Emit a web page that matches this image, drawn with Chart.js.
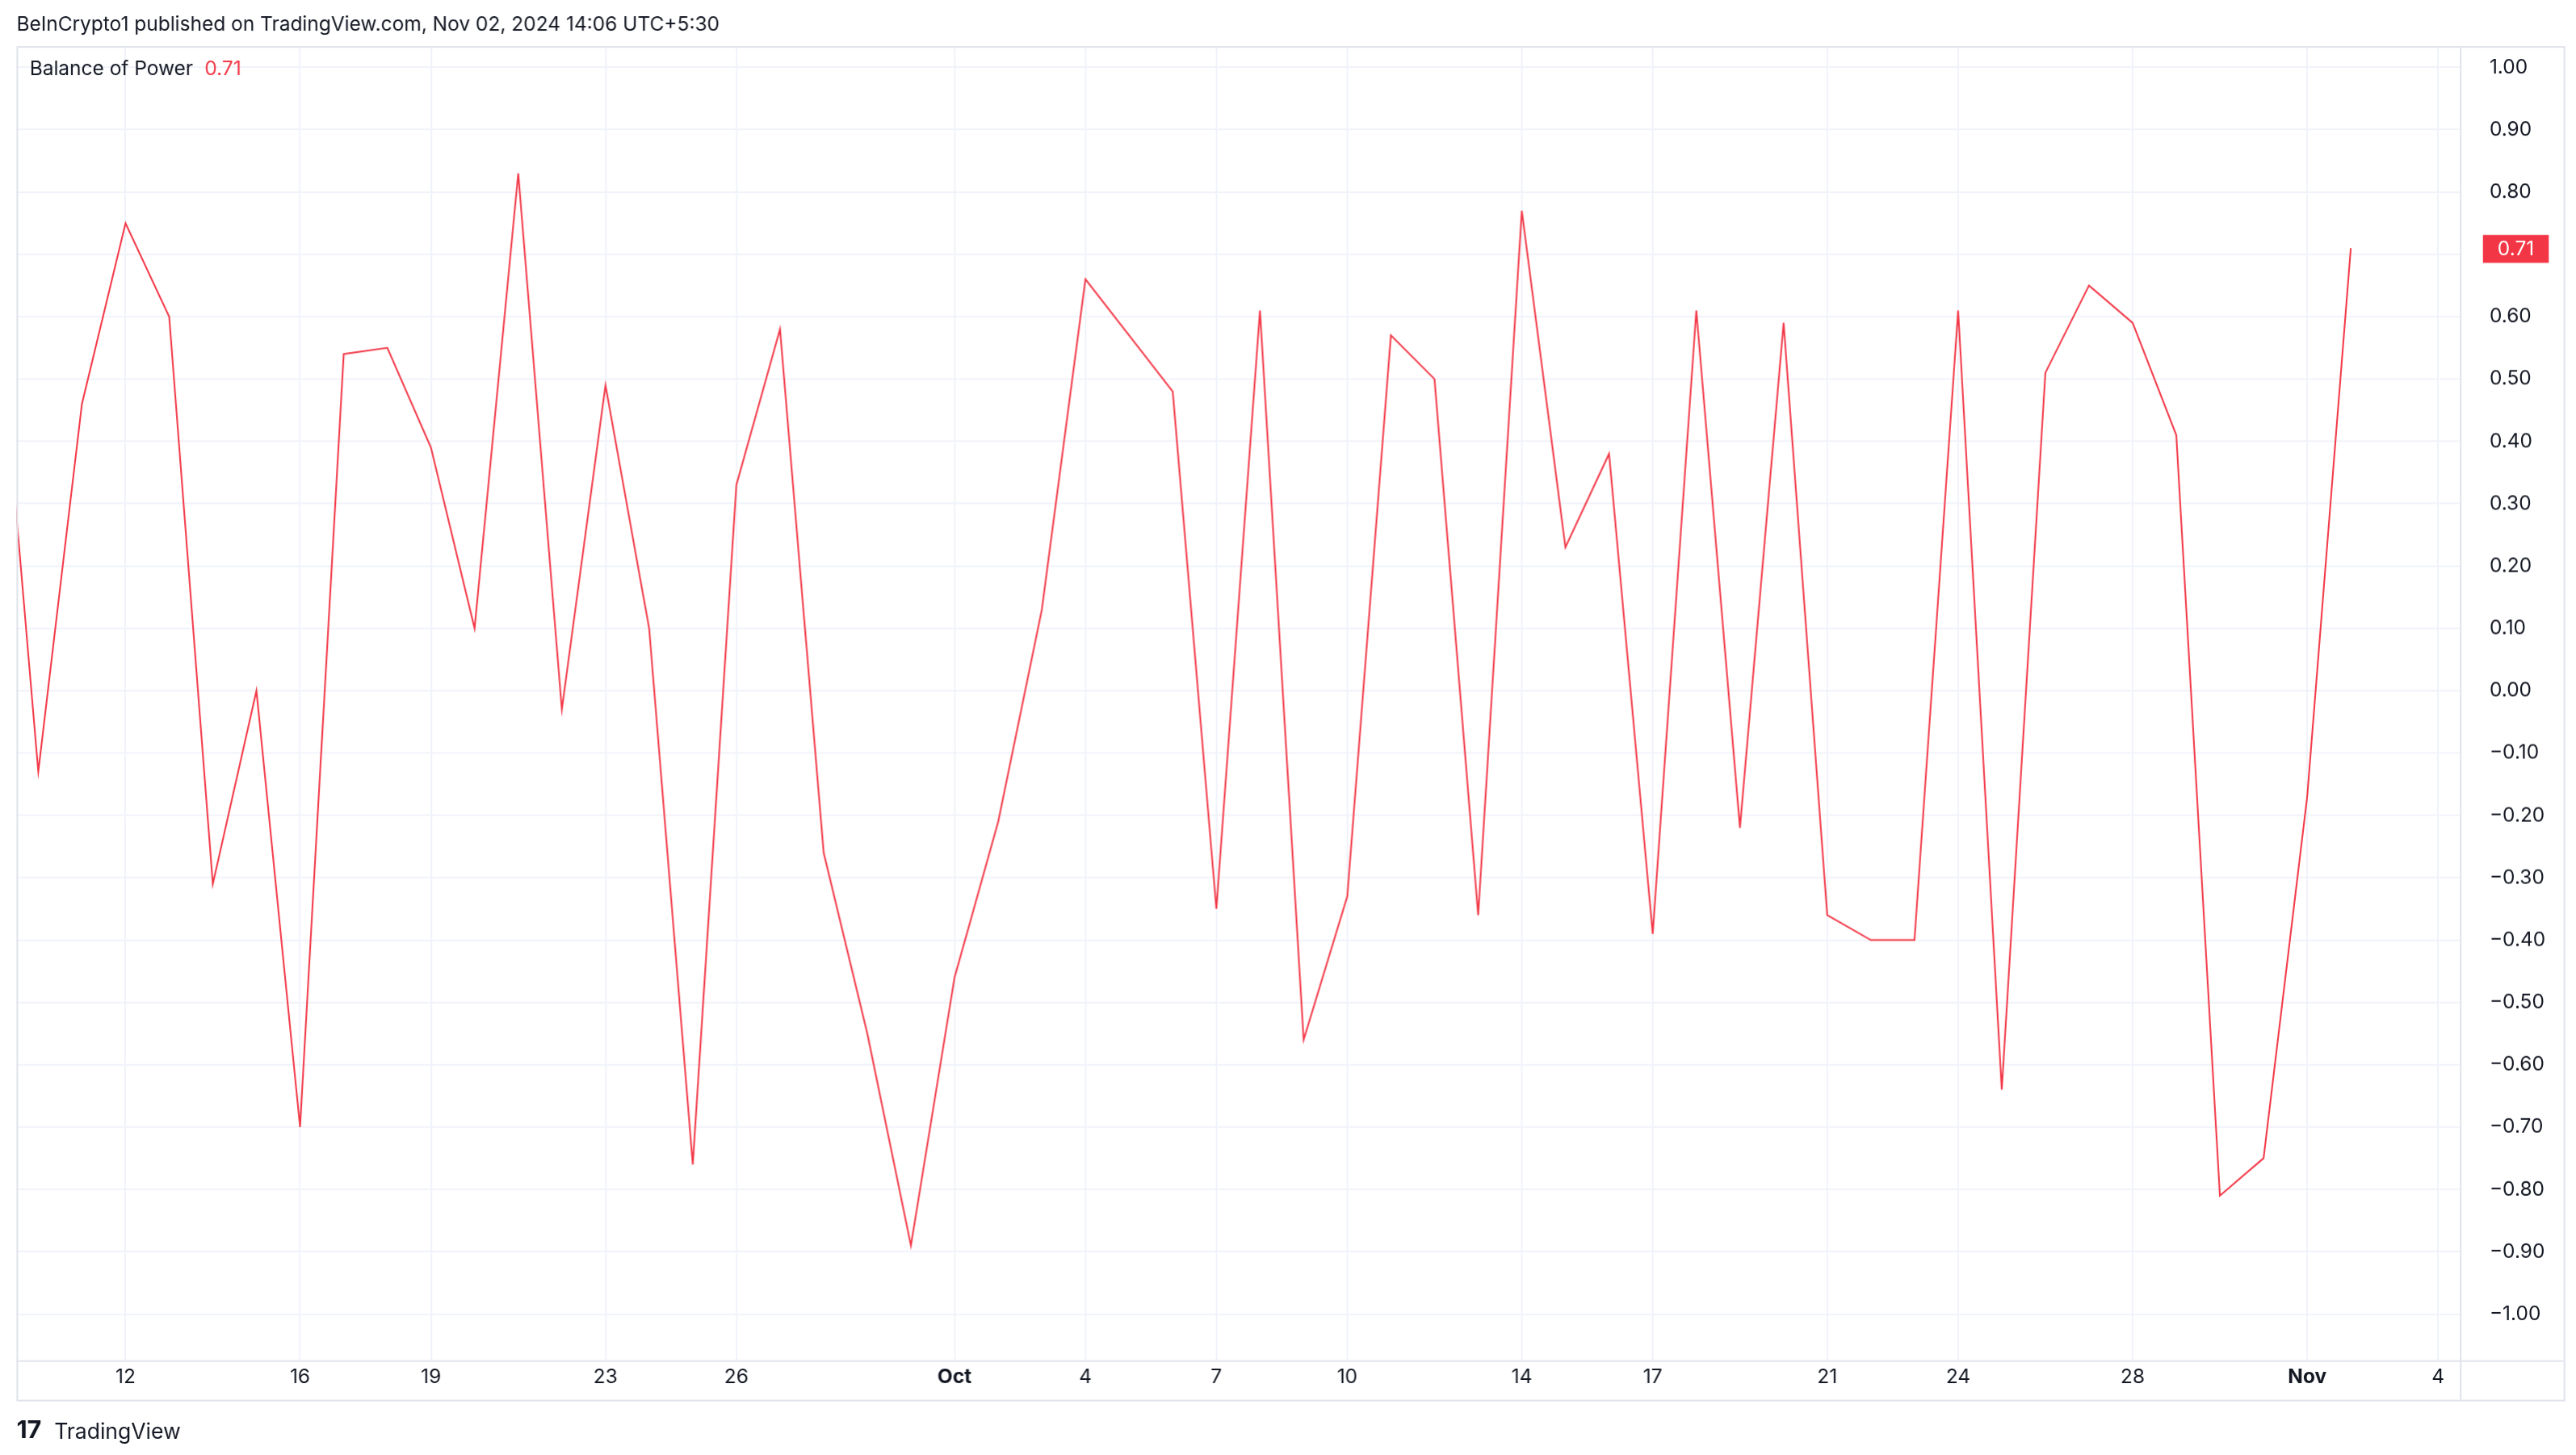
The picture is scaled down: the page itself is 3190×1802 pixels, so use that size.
<!DOCTYPE html>
<html>
<head>
<meta charset="utf-8">
<script src="https://cdn.jsdelivr.net/npm/chart.js@4.4.0/dist/chart.umd.min.js"></script>
<style>
  html, body { margin: 0; padding: 0; background: #fff; overflow: hidden; }
  canvas { display: block; }
</style>
</head>
<body>
<canvas id="c" width="1565" height="884"></canvas>
<script>
// day index: 0 = Sep 9
const days = [];
for (let i = 0; i <= 54; i++) days.push(i);
const bop = [0.69, -0.13, 0.46, 0.75, 0.60, -0.31, 0.00, -0.70, 0.54, 0.55,
  0.39, 0.10, 0.83, -0.03, 0.49, 0.10, -0.76, 0.33, 0.58, -0.26,
  -0.55, -0.89, -0.46, -0.21, 0.13, 0.66, 0.57, 0.48, -0.35, 0.61,
  -0.56, -0.33, 0.57, 0.50, -0.36, 0.77, 0.23, 0.38, -0.39, 0.61,
  -0.22, 0.59, -0.36, -0.40, -0.40, 0.61, -0.64, 0.51, 0.65, 0.59,
  0.41, -0.81, -0.75, -0.17, 0.71];
const tickDays = [3, 7, 10, 14, 17, 22, 25, 28, 31, 35, 38, 42, 45, 49, 53, 56];
const tickLabels = ['12', '16', '19', '23', '26', 'Oct', '4', '7', '10', '14', '17', '21', '24', '28', 'Nov', '4'];
const yTicks = [];
for (let v = -10; v <= 10; v++) yTicks.push(v / 10);

const RED = '#f23645';
const TEXT = '#131722';
const FONT = 'Inter, "Noto Sans", sans-serif';

const overlay = {
  id: 'overlay',
  afterDraw(chart) {
    const ctx = chart.ctx;
    const a = chart.chartArea;
    ctx.save();
    ctx.strokeStyle = '#e0e3eb';
    ctx.lineWidth = 1;
    ctx.strokeRect(a.left + 0.5, a.top + 0.5, 1557 - a.left, 850 - a.top);
    ctx.beginPath();
    ctx.moveTo(a.right + 0.5, a.top); ctx.lineTo(a.right + 0.5, 850);
    ctx.moveTo(a.left, a.bottom + 0.5); ctx.lineTo(1557, a.bottom + 0.5);
    ctx.stroke();
    ctx.fillStyle = TEXT;
    ctx.font = '12px ' + FONT;
    ctx.textBaseline = 'middle';
    ctx.textAlign = 'left';
    ctx.fillText('BeInCrypto1 published on TradingView.com, Nov 02, 2024 14:06 UTC+5:30', 10, 15);
    ctx.fillText('Balance of Power', 18, 42);
    const w = ctx.measureText('Balance of Power').width;
    ctx.fillStyle = RED;
    ctx.fillText(bop[bop.length - 1].toFixed(2), 18 + w + 7, 42);
    const y = chart.scales.y.getPixelForValue(bop[bop.length - 1]);
    ctx.fillStyle = RED;
    ctx.fillRect(1508, y - 8, 40, 17);
    ctx.fillStyle = '#fff';
    ctx.font = '12px ' + FONT;
    ctx.textAlign = 'center';
    ctx.fillText(bop[bop.length - 1].toFixed(2), 1528, y + 1);
    ctx.fillStyle = TEXT;
    ctx.textAlign = 'left';
    ctx.font = 'bold 15px ' + FONT;
    ctx.fillText('17', 10, 869);
    ctx.font = '13px ' + FONT;
    ctx.fillText('TradingView', 33, 870);
    ctx.restore();
  }
};

const canvas = document.getElementById('c');
new Chart(canvas, {
  type: 'line',
  data: {
    datasets: [{
      data: days.map((d, i) => ({ x: d, y: bop[i] })),
      borderColor: RED,
      borderWidth: 1,
      pointRadius: 0,
      tension: 0
    }]
  },
  options: {
    responsive: false,
    animation: false,
    devicePixelRatio: 2.0383,
    layout: { padding: { left: 10, top: 28, right: 19, bottom: 34 } },
    plugins: { legend: { display: false }, tooltip: { enabled: false } },
    scales: {
      x: {
        type: 'linear',
        min: 0.5,
        max: 56.5,
        afterBuildTicks(s) { s.ticks = tickDays.map(v => ({ value: v })); },
        afterFit(s) { s.height = 24; },
        grid: { color: '#f0f3fa', drawTicks: false },
        border: { display: false },
        ticks: {
          autoSkip: false,
          maxRotation: 0,
          padding: 3,
          color: TEXT,
          font: c => ({ family: FONT, size: 12, weight: (c.index === 5 || c.index === 14) ? 'bold' : 'normal' }),
          callback: (v, i) => tickLabels[i]
        }
      },
      y: {
        position: 'right',
        min: -1.074,
        max: 1.034,
        afterBuildTicks(s) { s.ticks = yTicks.map(v => ({ value: v })); },
        afterFit(s) { s.width = 52; },
        grid: { color: '#f0f3fa', drawTicks: false },
        border: { display: false },
        ticks: {
          padding: 18,
          color: TEXT,
          font: { family: FONT, size: 12 },
          callback: v => (v < 0 ? '\u2212' : '') + Math.abs(v).toFixed(2)
        }
      }
    }
  },
  plugins: [overlay]
});
canvas.style.width = '3190px';
canvas.style.height = '1802px';
</script>
</body>
</html>
